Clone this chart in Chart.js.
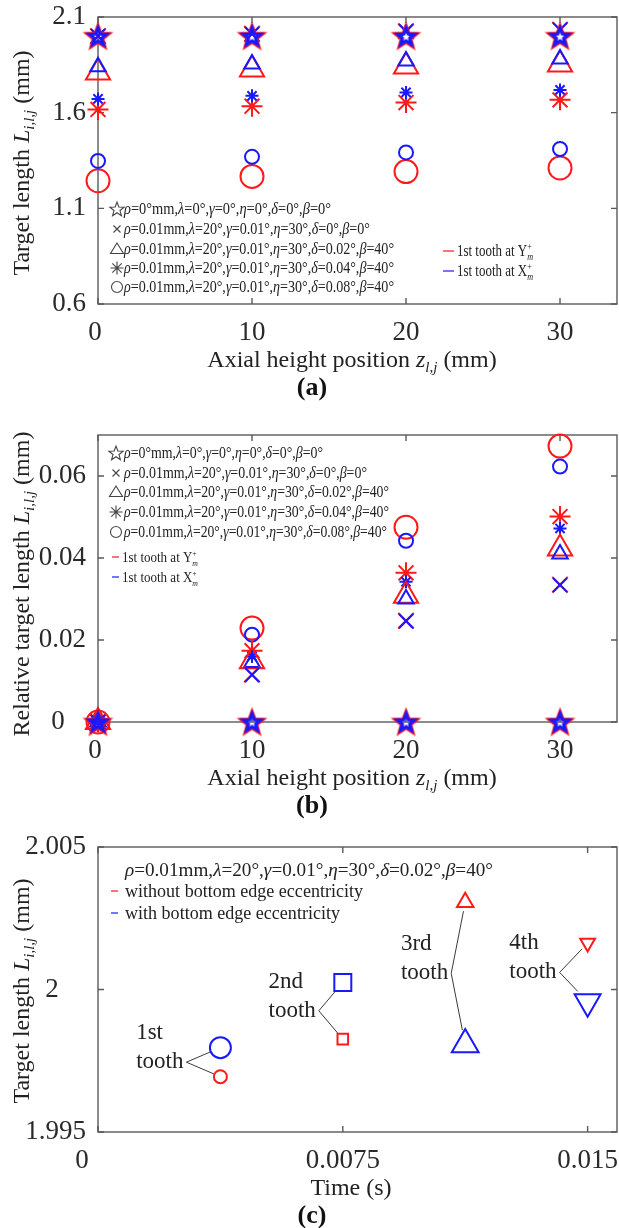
<!DOCTYPE html>
<html><head><meta charset="utf-8">
<script src="https://cdn.jsdelivr.net/npm/chart.js@4.4.0/dist/chart.umd.min.js"></script>
<style>
html,body{margin:0;padding:0;background:#fff;overflow:hidden;}
#wrap{position:relative;width:619px;height:1228px;overflow:hidden;background:#fff;}
canvas{position:absolute;left:0;display:block;}
</style></head><body>
<div id="wrap">
<canvas id="ca" width="619" height="410" style="top:0;width:619px;height:410px"></canvas>
<canvas id="cb" width="619" height="410" style="top:410px;width:619px;height:410px"></canvas>
<canvas id="cc" width="619" height="408" style="top:820px;width:619px;height:408px"></canvas>
</div>
<script>
// ---------------- DATA ----------------
const zPos = [0, 10, 20, 30];                 // axial height position (mm)
const zTicks = [0, 10, 20, 30];
const zTickLabels = ['0', '10', '20', '30'];

// panel (a) target length (mm)
const aYTicks = [0.6, 1.1, 1.6, 2.1];
const aYTickLabels = ['0.6', '1.1', '1.6', '2.1'];
const aStarRed   = [2.000, 2.000, 2.000, 2.000];
const aStarBlue  = [2.000, 2.000, 2.000, 2.000];
const aCrossRed  = [2.000, 2.012, 2.025, 2.034];
const aCrossBlue = [2.000, 2.011, 2.025, 2.033];
const aTriRed    = [1.810, 1.825, 1.841, 1.852];
const aTriBlue   = [1.840, 1.854, 1.870, 1.881];
const aAstRed    = [1.617, 1.634, 1.653, 1.667];
const aAstBlue   = [1.672, 1.688, 1.706, 1.719];
const aCirRed    = [1.244, 1.267, 1.292, 1.311];
const aCirBlue   = [1.348, 1.369, 1.392, 1.410];

// panel (b) relative target length (mm)
const bYTicks = [0, 0.02, 0.04, 0.06];
const bYTickLabels = ['0', '0.02', '0.04', '0.06'];
const bStarRed   = [0, 0, 0, 0];
const bStarBlue  = [0, 0, 0, 0];
const bCrossRed  = [0, 0.0116, 0.0247, 0.0335];
const bCrossBlue = [0, 0.0115, 0.0246, 0.0334];
const bTriRed    = [0, 0.0148, 0.0308, 0.0423];
const bTriBlue   = [0, 0.0145, 0.0300, 0.0410];
const bAstRed    = [0, 0.0174, 0.0364, 0.0501];
const bAstBlue   = [0, 0.0160, 0.0342, 0.0472];
const bCirRed    = [0, 0.0229, 0.0475, 0.0673];
const bCirBlue   = [0, 0.0213, 0.0442, 0.0623];

// panel (c) target length per tooth
const toothNames = ['1st', '2nd', '3rd', '4th'];
const toothTime  = [0.00375, 0.0075, 0.01125, 0.015];
const cRed  = [1.99694, 1.99826, 2.00306, 2.00163];   // without bottom edge eccentricity
const cBlue = [1.99796, 2.000245, 1.99807, 1.99957];  // with bottom edge eccentricity
const cXTicks = [0, 0.0075, 0.015];
const cXTickLabels = ['0', '0.0075', '0.015'];
const cYTicks = [1.995, 2, 2.005];
const cYTickLabels = ['1.995', '2', '2.005'];

const paramText = [
  'ρ=0°mm,λ=0°,γ=0°,η=0°,δ=0°,β=0°',
  'ρ=0.01mm,λ=20°,γ=0.01°,η=30°,δ=0°,β=0°',
  'ρ=0.01mm,λ=20°,γ=0.01°,η=30°,δ=0.02°,β=40°',
  'ρ=0.01mm,λ=20°,γ=0.01°,η=30°,δ=0.04°,β=40°',
  'ρ=0.01mm,λ=20°,γ=0.01°,η=30°,δ=0.08°,β=40°'
];
const paramSymbols = ['star', 'cross', 'tri', 'ast', 'circle'];
const cParamText = 'ρ=0.01mm,λ=20°,γ=0.01°,η=30°,δ=0.02°,β=40°';
const cSeriesNames = ['without bottom edge eccentricity', 'with bottom edge eccentricity'];

// ---------------- STYLE ----------------
const RED = 'rgb(255,25,25)';
const BLUE = 'rgb(25,25,255)';
const SERIF = '"Liberation Serif","Times New Roman",serif';
const F = (size, style) => (style ? style + ' ' : '') + size + 'px ' + SERIF;
const TICK_FONT = 27, TITLE_FONT = 24;

function starCanvas(color, R, lw) {
  const pad = lw + 2, size = Math.ceil(2 * R + 2 * pad);
  const c = document.createElement('canvas'); c.width = size; c.height = size;
  const g = c.getContext('2d');
  g.strokeStyle = color; g.lineWidth = lw; g.lineJoin = 'miter';
  const cx = size / 2, cy = size / 2 + R * 0.09;
  g.beginPath();
  for (let i = 0; i < 10; i++) {
    const ang = -Math.PI / 2 + i * Math.PI / 5;
    const rr = (i % 2) ? R * 0.42 : R;
    g.lineTo(cx + rr * Math.cos(ang), cy + rr * Math.sin(ang));
  }
  g.closePath(); g.stroke();
  return c;
}
const starRedImg = starCanvas(RED, 12.5, 2.6);
const starBlueImg = starCanvas(BLUE, 9, 3.2);

function ds(label, xs, ys, color, style, r, lw, extra) {
  return Object.assign({
    label, data: xs.map((x, i) => ({ x, y: ys[i] })),
    pointStyle: style, pointRadius: r, pointHoverRadius: r,
    pointBorderColor: color, pointBackgroundColor: 'rgba(0,0,0,0)',
    pointBorderWidth: lw, borderColor: color, backgroundColor: 'rgba(0,0,0,0)',
    showLine: false, clip: false
  }, extra || {});
}

// ---------------- DRAW HELPERS ----------------
function richWidth(ctx, parts) {
  let w = 0;
  for (const p of parts) { if (p.noAdv) continue; ctx.font = p.f; w += ctx.measureText(p.t).width; }
  return w;
}
function drawRich(ctx, parts, x, y, opt) {
  opt = opt || {};
  const w = richWidth(ctx, parts);
  const sx = opt.width ? opt.width / w : 1;
  const start = opt.align === 'center' ? x - w * sx / 2 : (opt.align === 'right' ? x - w * sx : x);
  ctx.save();
  ctx.translate(start, y); ctx.scale(sx, 1);
  ctx.textBaseline = 'alphabetic'; ctx.textAlign = 'left';
  let cx = 0;
  for (const p of parts) {
    ctx.font = p.f; ctx.fillStyle = p.c || opt.color || '#222';
    ctx.fillText(p.t, cx, p.dy || 0);
    if (!p.noAdv) cx += ctx.measureText(p.t).width;
  }
  ctx.restore();
}
const GREEK = /[ρλγηδβ]/;
function paramParts(s, size) {
  const parts = []; let buf = '', it = null;
  for (const ch of s) {
    const g = GREEK.test(ch);
    if (it !== null && g !== it) { parts.push({ t: buf, f: F(size, it ? 'italic' : '') }); buf = ''; }
    it = g; buf += ch;
  }
  if (buf) parts.push({ t: buf, f: F(size, it ? 'italic' : '') });
  return parts;
}
function toothLegendParts(letter, size) {
  return [
    { t: '1st tooth at ' + letter, f: F(size) },
    { t: '+', f: F(Math.round(size * 0.6)), dy: -6, noAdv: true },
    { t: 'm', f: F(Math.round(size * 0.6), 'italic'), dy: 4 }
  ];
}
function legendSym(ctx, kind, x, y) {
  ctx.save(); ctx.strokeStyle = '#444'; ctx.lineWidth = 1.1; ctx.beginPath();
  if (kind === 'star') {
    const R = 7.5;
    for (let i = 0; i < 10; i++) {
      const a = -Math.PI / 2 + i * Math.PI / 5, rr = (i % 2) ? R * 0.42 : R;
      ctx.lineTo(x + rr * Math.cos(a), y + 0.6 + rr * Math.sin(a));
    }
    ctx.closePath();
  } else if (kind === 'cross') {
    const d = 3.5; ctx.moveTo(x - d, y - d); ctx.lineTo(x + d, y + d); ctx.moveTo(x + d, y - d); ctx.lineTo(x - d, y + d);
  } else if (kind === 'tri') {
    ctx.moveTo(x, y - 6); ctx.lineTo(x + 6.5, y + 4.5); ctx.lineTo(x - 6.5, y + 4.5); ctx.closePath();
  } else if (kind === 'ast') {
    const r = 6.5;
    ctx.moveTo(x - r, y); ctx.lineTo(x + r, y); ctx.moveTo(x, y - r); ctx.lineTo(x, y + r);
    const d = r * 0.72;
    ctx.moveTo(x - d, y - d); ctx.lineTo(x + d, y + d); ctx.moveTo(x + d, y - d); ctx.lineTo(x - d, y + d);
  } else if (kind === 'circle') {
    ctx.arc(x, y, 5.5, 0, Math.PI * 2);
  }
  ctx.stroke(); ctx.restore();
}
function dash(ctx, color, x1, x2, y) {
  ctx.save(); ctx.strokeStyle = color; ctx.lineWidth = 1.2;
  ctx.beginPath(); ctx.moveTo(x1, y); ctx.lineTo(x2, y); ctx.stroke(); ctx.restore();
}

function drawFrame(chart, P) {
  const { ctx, chartArea: a, scales: { x, y } } = chart;
  ctx.save();
  ctx.strokeStyle = '#5a5a5a'; ctx.lineWidth = 1.4;
  ctx.strokeRect(a.left, a.top, a.right - a.left, a.bottom - a.top);
  const L = 6;
  ctx.beginPath();
  for (const v of P.xTicks) {
    const px = x.getPixelForValue(v);
    ctx.moveTo(px, a.bottom); ctx.lineTo(px, a.bottom - L);
    ctx.moveTo(px, a.top); ctx.lineTo(px, a.top + L);
  }
  for (const v of P.yTicks) {
    const py = y.getPixelForValue(v);
    ctx.moveTo(a.left, py); ctx.lineTo(a.left + L, py);
    ctx.moveTo(a.right, py); ctx.lineTo(a.right - L, py);
  }
  ctx.stroke();
  ctx.restore();
}
function drawTexts(chart, P) {
  const { ctx, chartArea: a, scales: { x, y } } = chart;
  ctx.save();
  ctx.font = F(TICK_FONT); ctx.fillStyle = '#2a2a2a'; ctx.textBaseline = 'middle';
  P.xTicks.forEach((v, i) => {
    const lab = P.xLabels[i];
    ctx.textAlign = 'center';
    ctx.fillText(lab, x.getPixelForValue(v) + (P.xShift[lab] || 0), a.bottom + 29);
  });
  P.yTicks.forEach((v, i) => {
    const lab = P.yLabels[i];
    const py = y.getPixelForValue(v);
    if (P.yCenter[lab] !== undefined) { ctx.textAlign = 'center'; ctx.fillText(lab, P.yCenter[lab], py); }
    else { ctx.textAlign = 'right'; ctx.fillText(lab, a.left - 12, py); }
  });
  ctx.restore();
  // axis titles
  drawRich(ctx, P.xTitle, P.xTitleX, a.bottom + 63, { align: 'center', color: '#222' });
  ctx.save();
  ctx.translate(29, P.yTitleY); ctx.rotate(-Math.PI / 2);
  drawRich(ctx, P.yTitle, 0, 0, { align: 'center', color: '#222' });
  ctx.restore();
  // caption
  ctx.save(); ctx.font = F(26, 'bold'); ctx.fillStyle = '#111'; ctx.textAlign = 'center'; ctx.textBaseline = 'middle';
  ctx.fillText(P.caption, 312, a.bottom + 84);
  ctx.restore();
  if (P.legend) P.legend(chart);
}
function titleParts(pre, sym, sub, post) {
  const s = TITLE_FONT;
  return [{ t: pre, f: F(s) }, { t: sym, f: F(s, 'italic') }, { t: sub, f: F(Math.round(s * 0.62), 'italic'), dy: 5 }, { t: post, f: F(s) }];
}

function makeChart(id, P, datasets, xr, yr, padTop, canvasH, bottom) {
  return new Chart(document.getElementById(id), {
    type: 'scatter',
    data: { datasets },
    options: {
      responsive: false, maintainAspectRatio: false, animation: false, events: [], devicePixelRatio: 1,
      layout: { autoPadding: false, padding: { top: padTop, right: 2, left: 0, bottom: 0 } },
      plugins: { legend: { display: false }, tooltip: { enabled: false } },
      scales: {
        x: { type: 'linear', min: xr[0], max: xr[1], ticks: { display: false }, grid: { display: false }, border: { display: false },
             afterFit: s => { s.height = canvasH - bottom; } },
        y: { type: 'linear', min: yr[0], max: yr[1], ticks: { display: false }, grid: { display: false }, border: { display: false },
             afterFit: s => { s.width = 98; } }
      }
    },
    plugins: [{
      id: 'deco',
      beforeDatasetsDraw(chart) { drawFrame(chart, P); if (P.under) P.under(chart); },
      afterDatasetsDraw(chart) { drawTexts(chart, P); }
    }]
  });
}

// ---------------- PANEL (a) ----------------
function paramLegend(ctx, rowsY, widths, xSym, xText, size) {
  paramText.forEach((s, i) => {
    legendSym(ctx, paramSymbols[i], xSym, rowsY[i]);
    drawRich(ctx, paramParts(s, size), xText, rowsY[i] + size * 0.33, { width: widths[i] });
  });
}
const PA = {
  xTicks: zTicks, xLabels: zTickLabels, yTicks: aYTicks, yLabels: aYTickLabels,
  xShift: { '0': -3 }, yCenter: {},
  xTitle: titleParts('Axial height position ', 'z', 'l,j', ' (mm)'), xTitleX: 352,
  yTitle: titleParts('Target length ', 'L', 'i,l,j', ' (mm)'), yTitleY: 163,
  caption: '(a)',
  legend(chart) {
    const ctx = chart.ctx;
    paramLegend(ctx, [209, 229, 249, 268, 287], [207, 246, 270, 270, 270], 117, 124, 16);
    dash(ctx, RED, 443, 454, 251);
    drawRich(ctx, toothLegendParts('Y', 16), 457, 251 + 5, { width: 76 });
    dash(ctx, BLUE, 443, 454, 271);
    drawRich(ctx, toothLegendParts('X', 16), 457, 271 + 5, { width: 76 });
  }
};
makeChart('ca', PA, [
  ds('star blue', zPos, aStarBlue, BLUE, starBlueImg, 9, 1),
  ds('star red', zPos, aStarRed, RED, starRedImg, 12, 1),
  ds('cross blue', zPos, aCrossBlue, BLUE, 'crossRot', 10, 2),
  ds('cross red', zPos, aCrossRed, RED, 'crossRot', 11, 2),
  ds('triangle blue', zPos, aTriBlue, BLUE, 'triangle', 9, 2),
  ds('triangle red', zPos, aTriRed, RED, 'triangle', 14, 2),
  ds('asterisk blue', zPos, aAstBlue, BLUE, 'star', 6.5, 2),
  ds('asterisk red', zPos, aAstRed, RED, 'star', 10.5, 2),
  ds('circle blue', zPos, aCirBlue, BLUE, 'circle', 7, 2),
  ds('circle red', zPos, aCirRed, RED, 'circle', 11.5, 2)
], [0, 33.7], [0.6, 2.1], 17, 410, 304);

// ---------------- PANEL (b) ----------------
const PB = {
  xTicks: zTicks, xLabels: zTickLabels, yTicks: bYTicks, yLabels: bYTickLabels,
  xShift: { '0': -3 }, yCenter: { '0': 58 },
  xTitle: titleParts('Axial height position ', 'z', 'l,j', ' (mm)'), xTitleX: 352,
  yTitle: titleParts('Relative target length ', 'L', 'i,l,j', ' (mm)'), yTitleY: 174,
  caption: '(b)',
  legend(chart) {
    const ctx = chart.ctx;
    paramLegend(ctx, [43, 63, 82, 102, 122], [199, 243, 265, 265, 263], 116, 124, 16);
    dash(ctx, RED, 112, 119, 147);
    drawRich(ctx, toothLegendParts('Y', 15), 122, 147 + 5, { width: 76 });
    dash(ctx, BLUE, 112, 119, 167);
    drawRich(ctx, toothLegendParts('X', 15), 122, 167 + 5, { width: 76 });
  }
};
makeChart('cb', PB, [
  ds('star blue', zPos, bStarBlue, BLUE, starBlueImg, 9, 1),
  ds('star red', zPos, bStarRed, RED, starRedImg, 12, 1),
  ds('cross blue', zPos, bCrossBlue, BLUE, 'crossRot', 10, 2),
  ds('cross red', zPos, bCrossRed, RED, 'crossRot', 11, 2),
  ds('triangle blue', zPos, bTriBlue, BLUE, 'triangle', 9, 2),
  ds('triangle red', zPos, bTriRed, RED, 'triangle', 14, 2),
  ds('asterisk blue', zPos, bAstBlue, BLUE, 'star', 6.5, 2),
  ds('asterisk red', zPos, bAstRed, RED, 'star', 10.5, 2),
  ds('circle blue', zPos, bCirBlue, BLUE, 'circle', 7, 2),
  ds('circle red', zPos, bCirRed, RED, 'circle', 11.5, 2)
], [0, 33.7], [0, 0.07], 25, 410, 312);

// ---------------- PANEL (c) ----------------
const cRedStyle = ['circle', 'rect', 'triangle', 'triangle'];
const cBlueStyle = ['circle', 'rect', 'triangle', 'triangle'];
const cRot = [0, 0, 0, 180];
const cRedR = [6.5, 7.5, 9.5, 8.5];
const cBlueR = [10.5, 12, 15.5, 15];
const toothLabelDx = [34, 24, 14, 28];
const PC = {
  xTicks: cXTicks, xLabels: cXTickLabels, yTicks: cYTicks, yLabels: cYTickLabels,
  xShift: { '0': -16 }, yCenter: { '2': 52 },
  xTitle: [{ t: 'Time (s)', f: F(TITLE_FONT) }], xTitleX: 351,
  yTitle: titleParts('Target length ', 'L', 'i,l,j', ' (mm)'), yTitleY: 171,
  caption: '(c)',
  under(chart) {
    const { ctx, scales: { x, y } } = chart;
    ctx.save();
    ctx.strokeStyle = '#3a3a3a'; ctx.lineWidth = 1;
    toothTime.forEach((t, i) => {
      const px = x.getPixelForValue(t);
      const pr = y.getPixelForValue(cRed[i]), pb = y.getPixelForValue(cBlue[i]);
      const vx = px - toothLabelDx[i], vy = (pr + pb) / 2;
      ctx.beginPath();
      [[pr, cRedR[i]], [pb, cBlueR[i]]].forEach(([py, r]) => {
        const dx = vx - px, dy = vy - py, d = Math.hypot(dx, dy);
        ctx.moveTo(vx, vy); ctx.lineTo(px + dx / d * r * 0.95, py + dy / d * r * 0.95);
      });
      ctx.stroke();
      ctx.font = F(23); ctx.fillStyle = '#222'; ctx.textBaseline = 'middle'; ctx.textAlign = 'left';
      const wT = ctx.measureText('tooth').width;
      const lx = vx - 3 - wT;
      ctx.fillText('tooth', lx, vy);
      ctx.fillText(toothNames[i], lx, vy - 29);
    });
    ctx.restore();
  },
  legend(chart) {
    const ctx = chart.ctx;
    drawRich(ctx, paramParts(cParamText, 18), 125, 50 + 6, { width: 368 });
    dash(ctx, RED, 111, 118, 71);
    drawRich(ctx, [{ t: cSeriesNames[0], f: F(18) }], 125, 71 + 6, { width: 238 });
    dash(ctx, BLUE, 111, 118, 93);
    drawRich(ctx, [{ t: cSeriesNames[1], f: F(18) }], 125, 93 + 6, { width: 215 });
  }
};
makeChart('cc', PC, [
  ds('with bottom edge eccentricity', toothTime, cBlue, BLUE, cBlueStyle, cBlueR, 2, { pointRotation: cRot }),
  ds('without bottom edge eccentricity', toothTime, cRed, RED, cRedStyle, cRedR, 2, { pointRotation: cRot })
], [0, 0.0159], [1.995, 2.005], 27, 408, 312);
</script>
</body></html>
